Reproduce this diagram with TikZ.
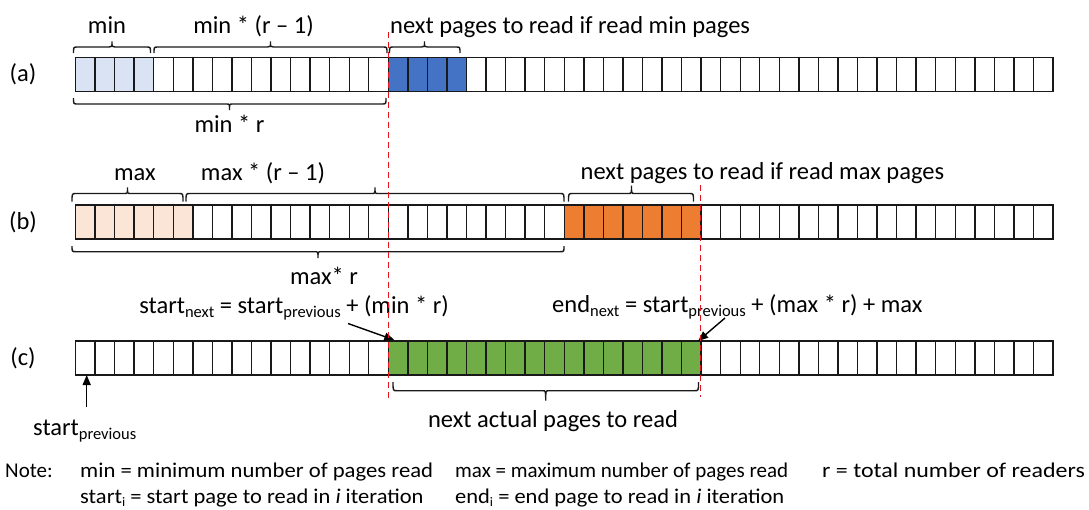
\documentclass[tikz,border=0pt]{standalone}
\usepackage{fontspec}
\setmainfont{Carlito}
\usetikzlibrary{arrows.meta}

\definecolor{lightblue}{HTML}{DAE3F3}
\definecolor{officeblue}{HTML}{4472C4}
\definecolor{peach}{HTML}{FBE5D6}
\definecolor{officeorange}{HTML}{ED7D31}
\definecolor{officegreen}{HTML}{70AD47}
\definecolor{guidered}{HTML}{E3141E}

% label fonts
\newcommand\lbl{\fontsize{24.5}{28}\selectfont}
\newcommand\notefont{\fontsize{21}{25}\selectfont}
\newcommand\sub[1]{\raisebox{-4.5pt}{\fontsize{16.5}{16.5}\selectfont #1}}
\newcommand\nsub[1]{\raisebox{-3pt}{\fontsize{13}{13}\selectfont #1}}
% legend entry stretched to a given horizontal factor
\newcommand\wide[2]{\scalebox{#1}[1]{#2}}

% flat curly brace: x-left, x-right, x-tick, y-bar, end offset, tick length
\newcommand\hbrace[6]{%
  \draw[bracket] (#1,{#4+#5}) .. controls (#1,#4) .. ({#1+4},#4)
    -- ({#3-3},#4) .. controls (#3,#4) .. (#3,{#4-#6})
    .. controls (#3,#4) .. ({#3+3},#4)
    -- ({#2-4},#4) .. controls (#2,#4) .. (#2,{#4+#5});}

\begin{document}
\begin{tikzpicture}[x=1pt,y=-1pt,
  page/.style={draw=black!90, line width=1.4pt, minimum width=19.55pt,
    minimum height=34pt, inner sep=0pt, outer sep=0pt, fill=white},
  txt/.style={font=\lbl, inner sep=0pt, anchor=base},
  note/.style={font=\notefont, inner sep=0pt, anchor=base west},
  guide/.style={draw=guidered, line width=1.6pt, dash pattern=on 6pt off 4pt},
  bracket/.style={draw=black!90, line width=1.4pt},
  arr/.style={draw=black, line width=1.4pt, -{Triangle[length=10pt,width=8pt]}}
]
\useasboundingbox (0,0) rectangle (1089,509);

% ---- row (a): read min pages
\foreach \i in {0,...,49}
  \node[page] (a\i) at ({75.5+(\i+0.5)*19.55},74.5) {};
\foreach \i in {0,...,3}
  \node[page,fill=lightblue] (a\i) at ({75.5+(\i+0.5)*19.55},74.5) {};
\foreach \i in {16,...,19}
  \node[page,fill=officeblue] (a\i) at ({75.5+(\i+0.5)*19.55},74.5) {};

% ---- row (b): read max pages
\foreach \i in {0,...,49}
  \node[page] (b\i) at ({75.5+(\i+0.5)*19.55},222) {};
\foreach \i in {0,...,5}
  \node[page,fill=peach] (b\i) at ({75.5+(\i+0.5)*19.55},222) {};
\foreach \i in {25,...,31}
  \node[page,fill=officeorange] (b\i) at ({75.5+(\i+0.5)*19.55},222) {};

% ---- row (c): actual next range
\foreach \i in {0,...,49}
  \node[page] (c\i) at ({75.5+(\i+0.5)*19.55},358) {};
\foreach \i in {16,...,31}
  \node[page,fill=officegreen] (c\i) at ({75.5+(\i+0.5)*19.55},358) {};

% row names
\node[font=\lbl, inner sep=0pt] (na) at (23,74.5) {(a)};
\node[font=\lbl, inner sep=0pt] (nb) at (23,222) {(b)};
\node[font=\lbl, inner sep=0pt] (nc) at (23,358) {(c)};

% ---- braces and labels of (a)
\hbrace{73.5}{150.5}{112}{47}{6}{5.5}
\hbrace{154}{387}{270.5}{47}{6}{5.5}
\hbrace{389.5}{460}{424.5}{47}{6}{5.5}
\hbrace{73.5}{386}{229.5}{104}{-6}{-6}
\node[txt] (tmin) at (107,33) {min};
\node[txt] (tminr1) at (253.5,33) {min * (r -- 1)};
\node[txt, anchor=base west] (tnextmin) at (390,33) {next pages to read if read min pages};
\node[txt] (tminr) at (229.5,132) {min * r};

% ---- braces and labels of (b)
\hbrace{72}{183}{127.5}{193.5}{8}{6}
\hbrace{186}{564}{375}{193.5}{8}{6}
\hbrace{568.5}{693.5}{631.5}{193.5}{8}{8}
\hbrace{72}{564}{318}{251.7}{-5.5}{-6.5}
\node[txt] (tmax) at (135,180) {max};
\node[txt] (tmaxr1) at (263,180) {max * (r -- 1)};
\node[txt, anchor=base west] (tnextmax) at (580.5,179) {next pages to read if read max pages};
\node[txt] (tmaxr) at (324,284) {max* r};

% ---- labels and pointers of (c)
\node[txt, anchor=base east] (tstart) at (449,313) {start\sub{next} = start\sub{previous} + (min * r)};
\node[txt, anchor=base west] (tend) at (552,312) {end\sub{next} = start\sub{previous} + (max * r) + max};
\coordinate (st-tail) at (348,323.5);
\coordinate (en-tail) at (725,318);
\draw[arr] (st-tail) -- ([xshift=6pt,yshift=1pt]c16.north west);
\draw[arr] (en-tail) -- ([xshift=-3pt]c31.north east);

\node[txt, anchor=base west] (tprev) at (33,435) {start\sub{previous}};
\coordinate (pv-tail) at (86.7,407);
\draw[arr] (pv-tail) -- (pv-tail |- c0.south);

\hbrace{393}{698.5}{545.7}{390.7}{-8.5}{-10}
\node[txt] (tactual) at (553,427) {next actual pages to read};

% ---- dashed guides at the two range ends
\coordinate (g1top) at (388.3,31.7);
\coordinate (g1bot) at (388.3,400);
\coordinate (g2top) at (700.6,185);
\coordinate (g2bot) at (700.6,397);
\draw[guide] (g1top) -- (g1bot);
\draw[guide] (g2top) -- (g2bot);

% ---- legend
\node[note] (nnote) at (5,477) {Note:};
\node[note] (nmin) at (80,477) {\wide{1.08}{min = minimum number of pages read}};
\node[note] (nmax) at (455,477) {\wide{1.0}{max = maximum number of pages read}};
\node[note] (nr) at (822,477) {\wide{1.14}{r = total number of readers}};
\node[note] (nstart) at (80,503.5) {\wide{1.07}{start\nsub{i} = start page to read in \textit{i} iteration}};
\node[note] (nend) at (455,503.5) {\wide{1.07}{end\nsub{i} = end page to read in \textit{i} iteration}};
\end{tikzpicture}
\end{document}
